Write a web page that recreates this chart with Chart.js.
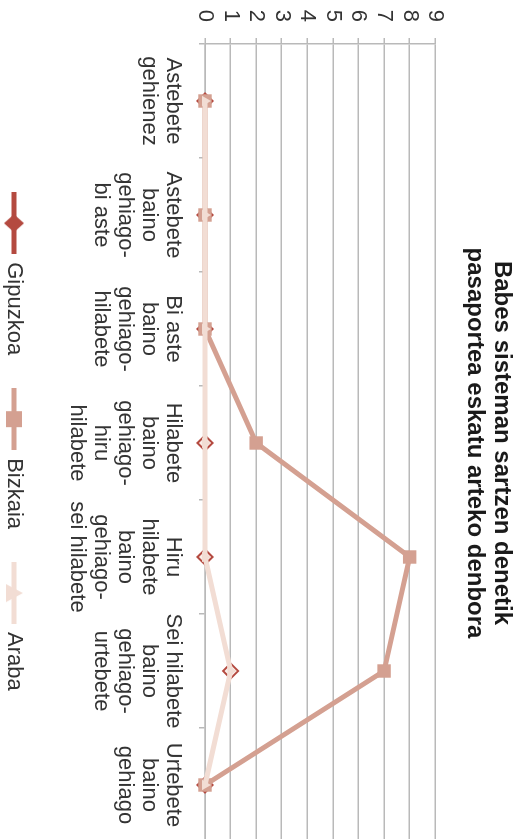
<!DOCTYPE html>
<html>
<head>
<meta charset="utf-8">
<script src="https://cdn.jsdelivr.net/npm/chart.js@4"></script>
<style>
  html, body { margin: 0; padding: 0; background: #fff; overflow: hidden; }
  /* the chart is drawn landscape and turned a quarter clockwise */
  #turn {
    position: absolute; left: 0; top: 0;
    width: 839px; height: 517px; overflow: hidden;
    transform-origin: 0 0;
    transform: translate(517px, 0) rotate(90deg);
  }
</style>
</head>
<body>
<div id="turn">
  <canvas id="durationChart" width="885" height="517"></canvas>
</div>
<script>
const categories = [
  ['Astebete', 'gehienez'],
  ['Astebete', 'baino', 'gehiago-', 'bi aste'],
  ['Bi aste', 'baino', 'gehiago-', 'hilabete'],
  ['Hilabete', 'baino', 'gehiago-', 'hiru', 'hilabete'],
  ['Hiru', 'hilabete', 'baino', 'gehiago-', 'sei hilabete'],
  ['Sei hilabete', 'baino', 'gehiago-', 'urtebete'],
  ['Urtebete', 'baino', 'gehiago']
];
const gipuzkoa = [0, 0, 0, 0, 0, 1, 0];
const bizkaia = [0, 0, 0, 2, 8, 7, 0];
const araba = [0, 0, 0, 0, 0, 1, 0];
const valueTicks = [0, 1, 2, 3, 4, 5, 6, 7, 8, 9];
const seriesNames = ['Gipuzkoa', 'Bizkaia', 'Araba'];
const titleLines = ['Babes sisteman sartzen denetik', 'pasaportea eskatu arteko denbora'];

const RED = '#b44a40';
const ROSE = '#d4a091';
const PALE = '#f2ddd4';
const GRID = '#b9b9b9';
const TEXT = '#333333';

Chart.defaults.font.family = '"Liberation Sans", Arial, Helvetica, sans-serif';

// legend swatch: a short thick line with the marker in the middle
function legendSymbol(color, shape) {
  const c = document.createElement('canvas');
  c.width = 62;
  c.height = 22;
  const g = c.getContext('2d');
  g.strokeStyle = color;
  g.lineWidth = 5;
  g.beginPath();
  g.moveTo(0, 11);
  g.lineTo(62, 11);
  g.stroke();
  g.fillStyle = color;
  g.beginPath();
  if (shape === 'diamond') {
    g.moveTo(31, 1); g.lineTo(40, 11); g.lineTo(31, 21); g.lineTo(22, 11);
  } else if (shape === 'square') {
    g.rect(23, 3, 16, 16);
  } else {
    g.moveTo(31, 2); g.lineTo(40, 19); g.lineTo(22, 19);
  }
  g.closePath();
  g.fill();
  return c;
}
const symbols = [legendSymbol(RED, 'diamond'), legendSymbol(ROSE, 'square'), legendSymbol(PALE, 'triangle')];

const ctx = document.getElementById('durationChart').getContext('2d');
new Chart(ctx, {
  type: 'line',
  data: {
    labels: categories,
    datasets: [
      {
        label: seriesNames[0],
        data: gipuzkoa,
        order: 3,
        clip: false,
        borderColor: RED,
        borderWidth: 1,
        pointStyle: 'rectRot',
        pointRadius: 7.5,
        pointBorderWidth: 2,
        pointBorderColor: RED,
        pointBackgroundColor: '#fbeee9'
      },
      {
        label: seriesNames[1],
        data: bizkaia,
        order: 2,
        clip: false,
        borderColor: ROSE,
        borderWidth: 5,
        pointStyle: 'rect',
        pointRadius: 9.5,
        pointBorderWidth: 0,
        pointBackgroundColor: ROSE
      },
      {
        label: seriesNames[2],
        data: araba,
        order: 1,
        clip: false,
        borderColor: PALE,
        borderWidth: 5,
        pointStyle: 'triangle',
        pointRadius: 6,
        pointBorderWidth: 0,
        pointBackgroundColor: PALE
      }
    ]
  },
  options: {
    responsive: false,
    animation: false,
    devicePixelRatio: 1,
    elements: { line: { tension: 0 } },
    layout: {
      autoPadding: false,
      padding: { left: 0, right: 43, top: 0, bottom: -7 }
    },
    scales: {
      x: {
        offset: true,
        grid: {
          offset: true,
          drawOnChartArea: false,
          tickLength: 6,
          color: GRID,
          lineWidth: 1.5
        },
        border: { color: GRID, width: 1.5 },
        ticks: {
          autoSkip: false,
          maxRotation: 0,
          padding: 14,
          color: TEXT,
          font: { size: 22, lineHeight: 24 / 22 }
        },
        afterFit: (scale) => { scale.height = 144; }
      },
      y: {
        min: valueTicks[0],
        max: valueTicks[valueTicks.length - 1],
        grid: { color: GRID, lineWidth: 1.5, tickLength: 6 },
        border: { color: GRID, width: 1.5 },
        ticks: {
          stepSize: valueTicks[1] - valueTicks[0],
          autoSkip: false,
          padding: 16,
          color: TEXT,
          font: { size: 22 }
        },
        afterFit: (scale) => { scale.width = 44; }
      }
    },
    plugins: {
      tooltip: { enabled: false },
      title: {
        display: true,
        fullSize: false,
        text: titleLines,
        color: '#1a1a1a',
        font: { size: 24, weight: 'bold', lineHeight: 1.12 },
        padding: { top: 2, bottom: 26 }
      },
      legend: {
        position: 'bottom',
        fullSize: false,
        labels: {
          usePointStyle: true,
          pointStyleWidth: 56,
          boxHeight: 22,
          padding: 36,
          color: TEXT,
          font: { size: 22 },
          generateLabels: (chart) => chart.data.datasets.map((ds, i) => ({
            text: ds.label,
            pointStyle: symbols[i],
            fillStyle: ds.borderColor,
            strokeStyle: ds.borderColor,
            lineWidth: 0,
            fontColor: TEXT,
            hidden: false,
            datasetIndex: i
          }))
        }
      }
    }
  }
});
</script>
</body>
</html>
